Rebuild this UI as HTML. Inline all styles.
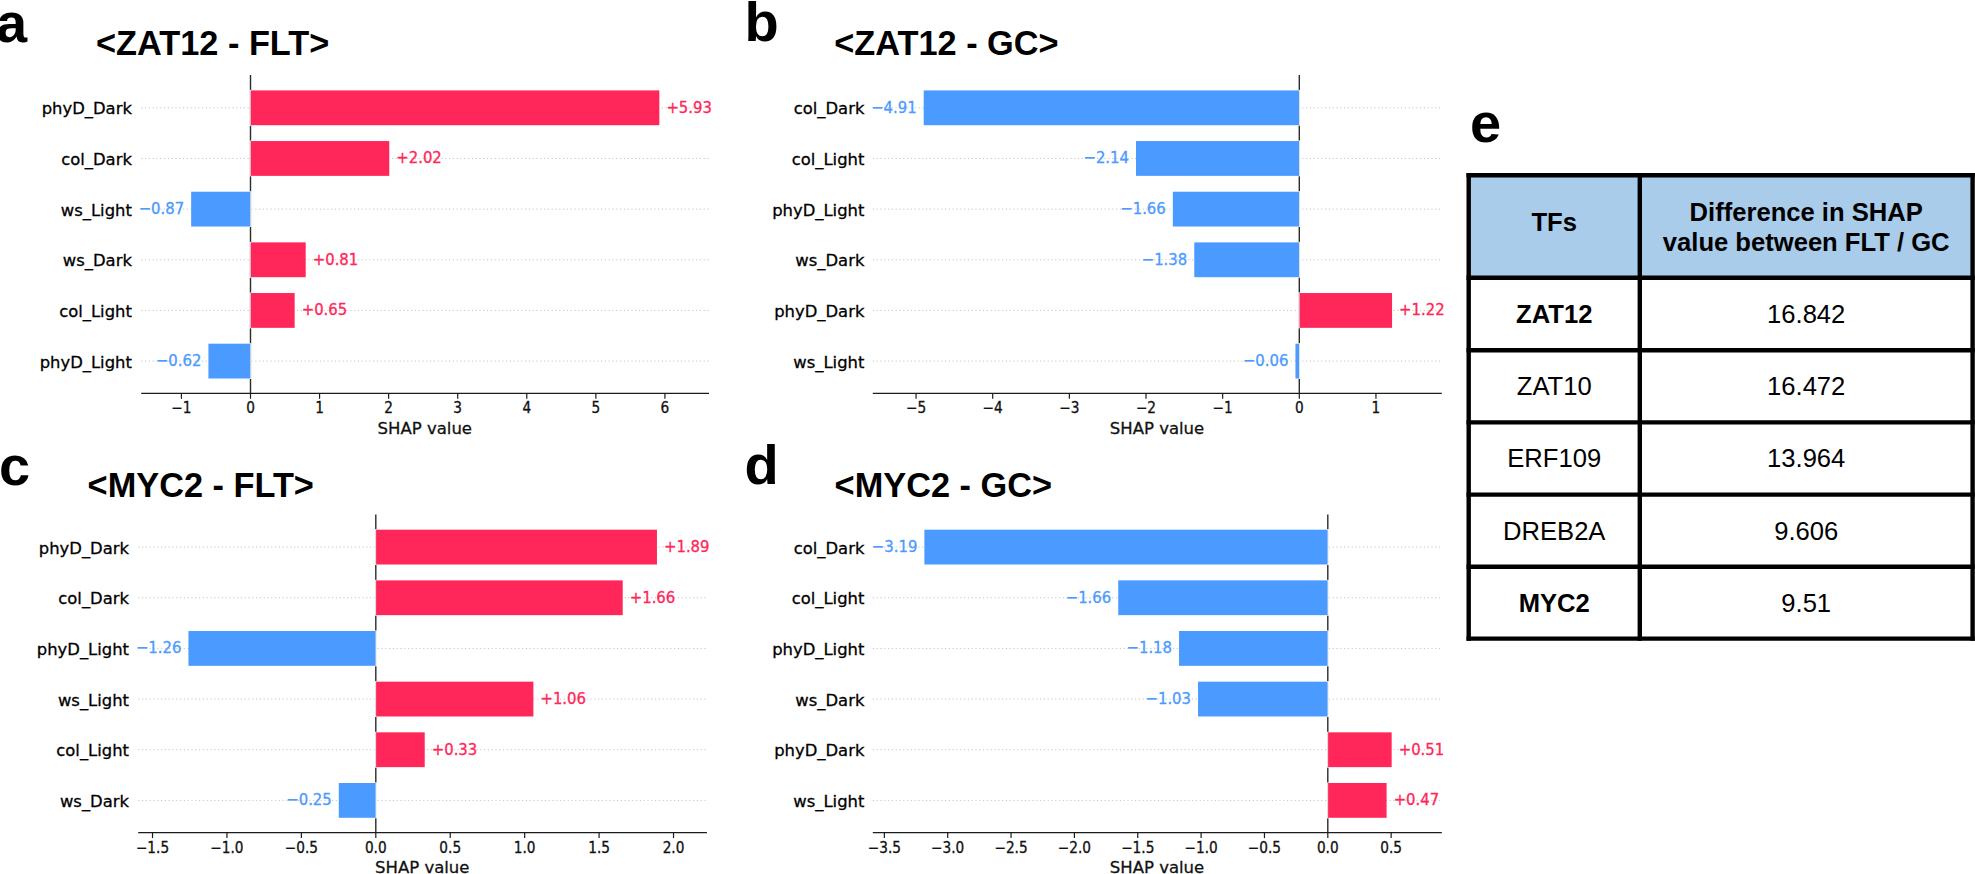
<!DOCTYPE html>
<html lang="en">
<head>
<meta charset="utf-8">
<title>SHAP values for ZAT12 and MYC2 (FLT / GC)</title>
<style>
html,body{margin:0;padding:0;background:#fff;}
body{width:1975px;height:874px;overflow:hidden;}
svg{display:block;}
text{white-space:pre;}
.c{font-family:'DejaVu Sans Condensed','DejaVu Sans',sans-serif;font-stretch:condensed;}
</style>
</head>
<body>
<svg width="1975" height="874" viewBox="0 0 1975 874">
<rect x="0" y="0" width="1975" height="874" fill="#ffffff"/>
<g font-family="'DejaVu Sans','Liberation Sans',sans-serif" stroke-width="0.3">
<line x1="141.20" y1="107.80" x2="709.00" y2="107.80" stroke="#c4c4c4" stroke-width="1" stroke-dasharray="1.2 2.6"/>
<line x1="141.20" y1="158.46" x2="709.00" y2="158.46" stroke="#c4c4c4" stroke-width="1" stroke-dasharray="1.2 2.6"/>
<line x1="141.20" y1="209.12" x2="709.00" y2="209.12" stroke="#c4c4c4" stroke-width="1" stroke-dasharray="1.2 2.6"/>
<line x1="141.20" y1="259.78" x2="709.00" y2="259.78" stroke="#c4c4c4" stroke-width="1" stroke-dasharray="1.2 2.6"/>
<line x1="141.20" y1="310.44" x2="709.00" y2="310.44" stroke="#c4c4c4" stroke-width="1" stroke-dasharray="1.2 2.6"/>
<line x1="141.20" y1="361.10" x2="709.00" y2="361.10" stroke="#c4c4c4" stroke-width="1" stroke-dasharray="1.2 2.6"/>
<line x1="250.50" y1="75.00" x2="250.50" y2="393.40" stroke="#2b2b2b" stroke-width="1.4"/>
<rect x="249.30" y="89.90" width="2.4" height="35.80" fill="#ffffff"/>
<rect x="249.60" y="90.40" width="1.5" height="34.80" fill="#dcdce2"/>
<rect x="250.80" y="90.40" width="408.54" height="34.80" fill="#ff2659"/>
<text x="666.39" y="112.75" font-size="16.5" class="c" fill="#ff2659" stroke="#ff2659" text-anchor="start">+5.93</text>
<text x="131.90" y="114.30" font-size="16.4" fill="#000" stroke="#000" text-anchor="end">phyD_Dark</text>
<rect x="249.30" y="140.56" width="2.4" height="35.80" fill="#ffffff"/>
<rect x="249.60" y="141.06" width="1.5" height="34.80" fill="#dcdce2"/>
<rect x="250.80" y="141.06" width="138.47" height="34.80" fill="#ff2659"/>
<text x="396.32" y="163.41" font-size="16.5" class="c" fill="#ff2659" stroke="#ff2659" text-anchor="start">+2.02</text>
<text x="131.90" y="164.96" font-size="16.4" fill="#000" stroke="#000" text-anchor="end">col_Dark</text>
<rect x="249.30" y="191.22" width="2.4" height="35.80" fill="#ffffff"/>
<rect x="249.60" y="191.72" width="1.5" height="34.80" fill="#dcdce2"/>
<rect x="191.16" y="191.72" width="59.04" height="34.80" fill="#4b9aff"/>
<text x="184.11" y="214.07" font-size="16.5" class="c" fill="#4b9aff" stroke="#4b9aff" text-anchor="end">−0.87</text>
<text x="131.90" y="215.62" font-size="16.4" fill="#000" stroke="#000" text-anchor="end">ws_Light</text>
<rect x="249.30" y="241.88" width="2.4" height="35.80" fill="#ffffff"/>
<rect x="249.60" y="242.38" width="1.5" height="34.80" fill="#dcdce2"/>
<rect x="250.80" y="242.38" width="54.90" height="34.80" fill="#ff2659"/>
<text x="312.75" y="264.73" font-size="16.5" class="c" fill="#ff2659" stroke="#ff2659" text-anchor="start">+0.81</text>
<text x="131.90" y="266.28" font-size="16.4" fill="#000" stroke="#000" text-anchor="end">ws_Dark</text>
<rect x="249.30" y="292.54" width="2.4" height="35.80" fill="#ffffff"/>
<rect x="249.60" y="293.04" width="1.5" height="34.80" fill="#dcdce2"/>
<rect x="250.80" y="293.04" width="43.85" height="34.80" fill="#ff2659"/>
<text x="301.70" y="315.39" font-size="16.5" class="c" fill="#ff2659" stroke="#ff2659" text-anchor="start">+0.65</text>
<text x="131.90" y="316.94" font-size="16.4" fill="#000" stroke="#000" text-anchor="end">col_Light</text>
<rect x="249.30" y="343.20" width="2.4" height="35.80" fill="#ffffff"/>
<rect x="249.60" y="343.70" width="1.5" height="34.80" fill="#dcdce2"/>
<rect x="208.43" y="343.70" width="41.77" height="34.80" fill="#4b9aff"/>
<text x="201.38" y="366.05" font-size="16.5" class="c" fill="#4b9aff" stroke="#4b9aff" text-anchor="end">−0.62</text>
<text x="131.90" y="367.60" font-size="16.4" fill="#000" stroke="#000" text-anchor="end">phyD_Light</text>
<line x1="141.20" y1="393.40" x2="709.00" y2="393.40" stroke="#1c1c1c" stroke-width="1.25"/>
<line x1="181.43" y1="393.40" x2="181.43" y2="398.80" stroke="#1c1c1c" stroke-width="1.2"/>
<text x="181.43" y="413.10" font-size="15.2" class="c" fill="#111" stroke="#111" text-anchor="middle">−1</text>
<line x1="250.50" y1="393.40" x2="250.50" y2="398.80" stroke="#1c1c1c" stroke-width="1.2"/>
<text x="250.50" y="413.10" font-size="15.2" class="c" fill="#111" stroke="#111" text-anchor="middle">0</text>
<line x1="319.57" y1="393.40" x2="319.57" y2="398.80" stroke="#1c1c1c" stroke-width="1.2"/>
<text x="319.57" y="413.10" font-size="15.2" class="c" fill="#111" stroke="#111" text-anchor="middle">1</text>
<line x1="388.64" y1="393.40" x2="388.64" y2="398.80" stroke="#1c1c1c" stroke-width="1.2"/>
<text x="388.64" y="413.10" font-size="15.2" class="c" fill="#111" stroke="#111" text-anchor="middle">2</text>
<line x1="457.71" y1="393.40" x2="457.71" y2="398.80" stroke="#1c1c1c" stroke-width="1.2"/>
<text x="457.71" y="413.10" font-size="15.2" class="c" fill="#111" stroke="#111" text-anchor="middle">3</text>
<line x1="526.78" y1="393.40" x2="526.78" y2="398.80" stroke="#1c1c1c" stroke-width="1.2"/>
<text x="526.78" y="413.10" font-size="15.2" class="c" fill="#111" stroke="#111" text-anchor="middle">4</text>
<line x1="595.85" y1="393.40" x2="595.85" y2="398.80" stroke="#1c1c1c" stroke-width="1.2"/>
<text x="595.85" y="413.10" font-size="15.2" class="c" fill="#111" stroke="#111" text-anchor="middle">5</text>
<line x1="664.92" y1="393.40" x2="664.92" y2="398.80" stroke="#1c1c1c" stroke-width="1.2"/>
<text x="664.92" y="413.10" font-size="15.2" class="c" fill="#111" stroke="#111" text-anchor="middle">6</text>
<text x="424.80" y="434.10" font-size="16.5" fill="#111" stroke="#111" text-anchor="middle">SHAP value</text>
<line x1="872.80" y1="107.80" x2="1441.80" y2="107.80" stroke="#c4c4c4" stroke-width="1" stroke-dasharray="1.2 2.6"/>
<line x1="872.80" y1="158.46" x2="1441.80" y2="158.46" stroke="#c4c4c4" stroke-width="1" stroke-dasharray="1.2 2.6"/>
<line x1="872.80" y1="209.12" x2="1441.80" y2="209.12" stroke="#c4c4c4" stroke-width="1" stroke-dasharray="1.2 2.6"/>
<line x1="872.80" y1="259.78" x2="1441.80" y2="259.78" stroke="#c4c4c4" stroke-width="1" stroke-dasharray="1.2 2.6"/>
<line x1="872.80" y1="310.44" x2="1441.80" y2="310.44" stroke="#c4c4c4" stroke-width="1" stroke-dasharray="1.2 2.6"/>
<line x1="872.80" y1="361.10" x2="1441.80" y2="361.10" stroke="#c4c4c4" stroke-width="1" stroke-dasharray="1.2 2.6"/>
<line x1="1299.30" y1="75.00" x2="1299.30" y2="393.40" stroke="#2b2b2b" stroke-width="1.4"/>
<rect x="1298.10" y="89.90" width="2.4" height="35.80" fill="#ffffff"/>
<rect x="1298.40" y="90.40" width="1.5" height="34.80" fill="#dcdce2"/>
<rect x="923.70" y="90.40" width="375.30" height="34.80" fill="#4b9aff"/>
<text x="916.65" y="112.75" font-size="16.5" class="c" fill="#4b9aff" stroke="#4b9aff" text-anchor="end">−4.91</text>
<text x="864.40" y="114.30" font-size="16.4" fill="#000" stroke="#000" text-anchor="end">col_Dark</text>
<rect x="1298.10" y="140.56" width="2.4" height="35.80" fill="#ffffff"/>
<rect x="1298.40" y="141.06" width="1.5" height="34.80" fill="#dcdce2"/>
<rect x="1136.02" y="141.06" width="162.98" height="34.80" fill="#4b9aff"/>
<text x="1128.97" y="163.41" font-size="16.5" class="c" fill="#4b9aff" stroke="#4b9aff" text-anchor="end">−2.14</text>
<text x="864.40" y="164.96" font-size="16.4" fill="#000" stroke="#000" text-anchor="end">col_Light</text>
<rect x="1298.10" y="191.22" width="2.4" height="35.80" fill="#ffffff"/>
<rect x="1298.40" y="191.72" width="1.5" height="34.80" fill="#dcdce2"/>
<rect x="1172.81" y="191.72" width="126.19" height="34.80" fill="#4b9aff"/>
<text x="1165.76" y="214.07" font-size="16.5" class="c" fill="#4b9aff" stroke="#4b9aff" text-anchor="end">−1.66</text>
<text x="864.40" y="215.62" font-size="16.4" fill="#000" stroke="#000" text-anchor="end">phyD_Light</text>
<rect x="1298.10" y="241.88" width="2.4" height="35.80" fill="#ffffff"/>
<rect x="1298.40" y="242.38" width="1.5" height="34.80" fill="#dcdce2"/>
<rect x="1194.27" y="242.38" width="104.73" height="34.80" fill="#4b9aff"/>
<text x="1187.22" y="264.73" font-size="16.5" class="c" fill="#4b9aff" stroke="#4b9aff" text-anchor="end">−1.38</text>
<text x="864.40" y="266.28" font-size="16.4" fill="#000" stroke="#000" text-anchor="end">ws_Dark</text>
<rect x="1298.10" y="292.54" width="2.4" height="35.80" fill="#ffffff"/>
<rect x="1298.40" y="293.04" width="1.5" height="34.80" fill="#dcdce2"/>
<rect x="1299.60" y="293.04" width="92.46" height="34.80" fill="#ff2659"/>
<text x="1399.11" y="315.39" font-size="16.5" class="c" fill="#ff2659" stroke="#ff2659" text-anchor="start">+1.22</text>
<text x="864.40" y="316.94" font-size="16.4" fill="#000" stroke="#000" text-anchor="end">phyD_Dark</text>
<rect x="1298.10" y="343.20" width="2.4" height="35.80" fill="#ffffff"/>
<rect x="1298.40" y="343.70" width="1.5" height="34.80" fill="#dcdce2"/>
<rect x="1295.45" y="343.70" width="3.55" height="34.80" fill="#4b9aff"/>
<text x="1288.40" y="366.05" font-size="16.5" class="c" fill="#4b9aff" stroke="#4b9aff" text-anchor="end">−0.06</text>
<text x="864.40" y="367.60" font-size="16.4" fill="#000" stroke="#000" text-anchor="end">ws_Light</text>
<line x1="872.80" y1="393.40" x2="1441.80" y2="393.40" stroke="#1c1c1c" stroke-width="1.25"/>
<line x1="916.05" y1="393.40" x2="916.05" y2="398.80" stroke="#1c1c1c" stroke-width="1.2"/>
<text x="916.05" y="413.10" font-size="15.2" class="c" fill="#111" stroke="#111" text-anchor="middle">−5</text>
<line x1="992.70" y1="393.40" x2="992.70" y2="398.80" stroke="#1c1c1c" stroke-width="1.2"/>
<text x="992.70" y="413.10" font-size="15.2" class="c" fill="#111" stroke="#111" text-anchor="middle">−4</text>
<line x1="1069.35" y1="393.40" x2="1069.35" y2="398.80" stroke="#1c1c1c" stroke-width="1.2"/>
<text x="1069.35" y="413.10" font-size="15.2" class="c" fill="#111" stroke="#111" text-anchor="middle">−3</text>
<line x1="1146.00" y1="393.40" x2="1146.00" y2="398.80" stroke="#1c1c1c" stroke-width="1.2"/>
<text x="1146.00" y="413.10" font-size="15.2" class="c" fill="#111" stroke="#111" text-anchor="middle">−2</text>
<line x1="1222.65" y1="393.40" x2="1222.65" y2="398.80" stroke="#1c1c1c" stroke-width="1.2"/>
<text x="1222.65" y="413.10" font-size="15.2" class="c" fill="#111" stroke="#111" text-anchor="middle">−1</text>
<line x1="1299.30" y1="393.40" x2="1299.30" y2="398.80" stroke="#1c1c1c" stroke-width="1.2"/>
<text x="1299.30" y="413.10" font-size="15.2" class="c" fill="#111" stroke="#111" text-anchor="middle">0</text>
<line x1="1375.95" y1="393.40" x2="1375.95" y2="398.80" stroke="#1c1c1c" stroke-width="1.2"/>
<text x="1375.95" y="413.10" font-size="15.2" class="c" fill="#111" stroke="#111" text-anchor="middle">1</text>
<text x="1157.00" y="434.10" font-size="16.5" fill="#111" stroke="#111" text-anchor="middle">SHAP value</text>
<line x1="138.20" y1="547.10" x2="706.90" y2="547.10" stroke="#c4c4c4" stroke-width="1" stroke-dasharray="1.2 2.6"/>
<line x1="138.20" y1="597.76" x2="706.90" y2="597.76" stroke="#c4c4c4" stroke-width="1" stroke-dasharray="1.2 2.6"/>
<line x1="138.20" y1="648.42" x2="706.90" y2="648.42" stroke="#c4c4c4" stroke-width="1" stroke-dasharray="1.2 2.6"/>
<line x1="138.20" y1="699.08" x2="706.90" y2="699.08" stroke="#c4c4c4" stroke-width="1" stroke-dasharray="1.2 2.6"/>
<line x1="138.20" y1="749.74" x2="706.90" y2="749.74" stroke="#c4c4c4" stroke-width="1" stroke-dasharray="1.2 2.6"/>
<line x1="138.20" y1="800.40" x2="706.90" y2="800.40" stroke="#c4c4c4" stroke-width="1" stroke-dasharray="1.2 2.6"/>
<line x1="375.80" y1="514.50" x2="375.80" y2="832.70" stroke="#2b2b2b" stroke-width="1.4"/>
<rect x="374.60" y="529.20" width="2.4" height="35.80" fill="#ffffff"/>
<rect x="374.90" y="529.70" width="1.5" height="34.80" fill="#dcdce2"/>
<rect x="376.10" y="529.70" width="280.85" height="34.80" fill="#ff2659"/>
<text x="664.00" y="552.05" font-size="16.5" class="c" fill="#ff2659" stroke="#ff2659" text-anchor="start">+1.89</text>
<text x="129.00" y="553.60" font-size="16.4" fill="#000" stroke="#000" text-anchor="end">phyD_Dark</text>
<rect x="374.60" y="579.86" width="2.4" height="35.80" fill="#ffffff"/>
<rect x="374.90" y="580.36" width="1.5" height="34.80" fill="#dcdce2"/>
<rect x="376.10" y="580.36" width="246.61" height="34.80" fill="#ff2659"/>
<text x="629.76" y="602.71" font-size="16.5" class="c" fill="#ff2659" stroke="#ff2659" text-anchor="start">+1.66</text>
<text x="129.00" y="604.26" font-size="16.4" fill="#000" stroke="#000" text-anchor="end">col_Dark</text>
<rect x="374.60" y="630.52" width="2.4" height="35.80" fill="#ffffff"/>
<rect x="374.90" y="631.02" width="1.5" height="34.80" fill="#dcdce2"/>
<rect x="188.44" y="631.02" width="187.06" height="34.80" fill="#4b9aff"/>
<text x="181.39" y="653.37" font-size="16.5" class="c" fill="#4b9aff" stroke="#4b9aff" text-anchor="end">−1.26</text>
<text x="129.00" y="654.92" font-size="16.4" fill="#000" stroke="#000" text-anchor="end">phyD_Light</text>
<rect x="374.60" y="681.18" width="2.4" height="35.80" fill="#ffffff"/>
<rect x="374.90" y="681.68" width="1.5" height="34.80" fill="#dcdce2"/>
<rect x="376.10" y="681.68" width="157.29" height="34.80" fill="#ff2659"/>
<text x="540.44" y="704.03" font-size="16.5" class="c" fill="#ff2659" stroke="#ff2659" text-anchor="start">+1.06</text>
<text x="129.00" y="705.58" font-size="16.4" fill="#000" stroke="#000" text-anchor="end">ws_Light</text>
<rect x="374.60" y="731.84" width="2.4" height="35.80" fill="#ffffff"/>
<rect x="374.90" y="732.34" width="1.5" height="34.80" fill="#dcdce2"/>
<rect x="376.10" y="732.34" width="48.62" height="34.80" fill="#ff2659"/>
<text x="431.77" y="754.69" font-size="16.5" class="c" fill="#ff2659" stroke="#ff2659" text-anchor="start">+0.33</text>
<text x="129.00" y="756.24" font-size="16.4" fill="#000" stroke="#000" text-anchor="end">col_Light</text>
<rect x="374.60" y="782.50" width="2.4" height="35.80" fill="#ffffff"/>
<rect x="374.90" y="783.00" width="1.5" height="34.80" fill="#dcdce2"/>
<rect x="338.78" y="783.00" width="36.72" height="34.80" fill="#4b9aff"/>
<text x="331.74" y="805.35" font-size="16.5" class="c" fill="#4b9aff" stroke="#4b9aff" text-anchor="end">−0.25</text>
<text x="129.00" y="806.90" font-size="16.4" fill="#000" stroke="#000" text-anchor="end">ws_Dark</text>
<line x1="138.20" y1="832.70" x2="706.90" y2="832.70" stroke="#1c1c1c" stroke-width="1.25"/>
<line x1="152.51" y1="832.70" x2="152.51" y2="838.10" stroke="#1c1c1c" stroke-width="1.2"/>
<text x="152.51" y="852.90" font-size="15.2" class="c" fill="#111" stroke="#111" text-anchor="middle">−1.5</text>
<line x1="226.94" y1="832.70" x2="226.94" y2="838.10" stroke="#1c1c1c" stroke-width="1.2"/>
<text x="226.94" y="852.90" font-size="15.2" class="c" fill="#111" stroke="#111" text-anchor="middle">−1.0</text>
<line x1="301.37" y1="832.70" x2="301.37" y2="838.10" stroke="#1c1c1c" stroke-width="1.2"/>
<text x="301.37" y="852.90" font-size="15.2" class="c" fill="#111" stroke="#111" text-anchor="middle">−0.5</text>
<line x1="375.80" y1="832.70" x2="375.80" y2="838.10" stroke="#1c1c1c" stroke-width="1.2"/>
<text x="375.80" y="852.90" font-size="15.2" class="c" fill="#111" stroke="#111" text-anchor="middle">0.0</text>
<line x1="450.23" y1="832.70" x2="450.23" y2="838.10" stroke="#1c1c1c" stroke-width="1.2"/>
<text x="450.23" y="852.90" font-size="15.2" class="c" fill="#111" stroke="#111" text-anchor="middle">0.5</text>
<line x1="524.66" y1="832.70" x2="524.66" y2="838.10" stroke="#1c1c1c" stroke-width="1.2"/>
<text x="524.66" y="852.90" font-size="15.2" class="c" fill="#111" stroke="#111" text-anchor="middle">1.0</text>
<line x1="599.09" y1="832.70" x2="599.09" y2="838.10" stroke="#1c1c1c" stroke-width="1.2"/>
<text x="599.09" y="852.90" font-size="15.2" class="c" fill="#111" stroke="#111" text-anchor="middle">1.5</text>
<line x1="673.52" y1="832.70" x2="673.52" y2="838.10" stroke="#1c1c1c" stroke-width="1.2"/>
<text x="673.52" y="852.90" font-size="15.2" class="c" fill="#111" stroke="#111" text-anchor="middle">2.0</text>
<text x="422.25" y="873.20" font-size="16.5" fill="#111" stroke="#111" text-anchor="middle">SHAP value</text>
<line x1="872.80" y1="547.10" x2="1441.80" y2="547.10" stroke="#c4c4c4" stroke-width="1" stroke-dasharray="1.2 2.6"/>
<line x1="872.80" y1="597.76" x2="1441.80" y2="597.76" stroke="#c4c4c4" stroke-width="1" stroke-dasharray="1.2 2.6"/>
<line x1="872.80" y1="648.42" x2="1441.80" y2="648.42" stroke="#c4c4c4" stroke-width="1" stroke-dasharray="1.2 2.6"/>
<line x1="872.80" y1="699.08" x2="1441.80" y2="699.08" stroke="#c4c4c4" stroke-width="1" stroke-dasharray="1.2 2.6"/>
<line x1="872.80" y1="749.74" x2="1441.80" y2="749.74" stroke="#c4c4c4" stroke-width="1" stroke-dasharray="1.2 2.6"/>
<line x1="872.80" y1="800.40" x2="1441.80" y2="800.40" stroke="#c4c4c4" stroke-width="1" stroke-dasharray="1.2 2.6"/>
<line x1="1327.80" y1="514.50" x2="1327.80" y2="832.70" stroke="#2b2b2b" stroke-width="1.4"/>
<rect x="1326.60" y="529.20" width="2.4" height="35.80" fill="#ffffff"/>
<rect x="1326.90" y="529.70" width="1.5" height="34.80" fill="#dcdce2"/>
<rect x="924.38" y="529.70" width="403.12" height="34.80" fill="#4b9aff"/>
<text x="917.33" y="552.05" font-size="16.5" class="c" fill="#4b9aff" stroke="#4b9aff" text-anchor="end">−3.19</text>
<text x="864.40" y="553.60" font-size="16.4" fill="#000" stroke="#000" text-anchor="end">col_Dark</text>
<rect x="1326.60" y="579.86" width="2.4" height="35.80" fill="#ffffff"/>
<rect x="1326.90" y="580.36" width="1.5" height="34.80" fill="#dcdce2"/>
<rect x="1118.23" y="580.36" width="209.27" height="34.80" fill="#4b9aff"/>
<text x="1111.18" y="602.71" font-size="16.5" class="c" fill="#4b9aff" stroke="#4b9aff" text-anchor="end">−1.66</text>
<text x="864.40" y="604.26" font-size="16.4" fill="#000" stroke="#000" text-anchor="end">col_Light</text>
<rect x="1326.60" y="630.52" width="2.4" height="35.80" fill="#ffffff"/>
<rect x="1326.90" y="631.02" width="1.5" height="34.80" fill="#dcdce2"/>
<rect x="1179.04" y="631.02" width="148.46" height="34.80" fill="#4b9aff"/>
<text x="1171.99" y="653.37" font-size="16.5" class="c" fill="#4b9aff" stroke="#4b9aff" text-anchor="end">−1.18</text>
<text x="864.40" y="654.92" font-size="16.4" fill="#000" stroke="#000" text-anchor="end">phyD_Light</text>
<rect x="1326.60" y="681.18" width="2.4" height="35.80" fill="#ffffff"/>
<rect x="1326.90" y="681.68" width="1.5" height="34.80" fill="#dcdce2"/>
<rect x="1198.05" y="681.68" width="129.45" height="34.80" fill="#4b9aff"/>
<text x="1191.00" y="704.03" font-size="16.5" class="c" fill="#4b9aff" stroke="#4b9aff" text-anchor="end">−1.03</text>
<text x="864.40" y="705.58" font-size="16.4" fill="#000" stroke="#000" text-anchor="end">ws_Dark</text>
<rect x="1326.60" y="731.84" width="2.4" height="35.80" fill="#ffffff"/>
<rect x="1326.90" y="732.34" width="1.5" height="34.80" fill="#dcdce2"/>
<rect x="1328.10" y="732.34" width="63.57" height="34.80" fill="#ff2659"/>
<text x="1398.72" y="754.69" font-size="16.5" class="c" fill="#ff2659" stroke="#ff2659" text-anchor="start">+0.51</text>
<text x="864.40" y="756.24" font-size="16.4" fill="#000" stroke="#000" text-anchor="end">phyD_Dark</text>
<rect x="1326.60" y="782.50" width="2.4" height="35.80" fill="#ffffff"/>
<rect x="1326.90" y="783.00" width="1.5" height="34.80" fill="#dcdce2"/>
<rect x="1328.10" y="783.00" width="58.50" height="34.80" fill="#ff2659"/>
<text x="1393.65" y="805.35" font-size="16.5" class="c" fill="#ff2659" stroke="#ff2659" text-anchor="start">+0.47</text>
<text x="864.40" y="806.90" font-size="16.4" fill="#000" stroke="#000" text-anchor="end">ws_Light</text>
<line x1="872.80" y1="832.70" x2="1441.80" y2="832.70" stroke="#1c1c1c" stroke-width="1.25"/>
<line x1="884.35" y1="832.70" x2="884.35" y2="838.10" stroke="#1c1c1c" stroke-width="1.2"/>
<text x="884.35" y="852.90" font-size="15.2" class="c" fill="#111" stroke="#111" text-anchor="middle">−3.5</text>
<line x1="947.70" y1="832.70" x2="947.70" y2="838.10" stroke="#1c1c1c" stroke-width="1.2"/>
<text x="947.70" y="852.90" font-size="15.2" class="c" fill="#111" stroke="#111" text-anchor="middle">−3.0</text>
<line x1="1011.05" y1="832.70" x2="1011.05" y2="838.10" stroke="#1c1c1c" stroke-width="1.2"/>
<text x="1011.05" y="852.90" font-size="15.2" class="c" fill="#111" stroke="#111" text-anchor="middle">−2.5</text>
<line x1="1074.40" y1="832.70" x2="1074.40" y2="838.10" stroke="#1c1c1c" stroke-width="1.2"/>
<text x="1074.40" y="852.90" font-size="15.2" class="c" fill="#111" stroke="#111" text-anchor="middle">−2.0</text>
<line x1="1137.75" y1="832.70" x2="1137.75" y2="838.10" stroke="#1c1c1c" stroke-width="1.2"/>
<text x="1137.75" y="852.90" font-size="15.2" class="c" fill="#111" stroke="#111" text-anchor="middle">−1.5</text>
<line x1="1201.10" y1="832.70" x2="1201.10" y2="838.10" stroke="#1c1c1c" stroke-width="1.2"/>
<text x="1201.10" y="852.90" font-size="15.2" class="c" fill="#111" stroke="#111" text-anchor="middle">−1.0</text>
<line x1="1264.45" y1="832.70" x2="1264.45" y2="838.10" stroke="#1c1c1c" stroke-width="1.2"/>
<text x="1264.45" y="852.90" font-size="15.2" class="c" fill="#111" stroke="#111" text-anchor="middle">−0.5</text>
<line x1="1327.80" y1="832.70" x2="1327.80" y2="838.10" stroke="#1c1c1c" stroke-width="1.2"/>
<text x="1327.80" y="852.90" font-size="15.2" class="c" fill="#111" stroke="#111" text-anchor="middle">0.0</text>
<line x1="1391.15" y1="832.70" x2="1391.15" y2="838.10" stroke="#1c1c1c" stroke-width="1.2"/>
<text x="1391.15" y="852.90" font-size="15.2" class="c" fill="#111" stroke="#111" text-anchor="middle">0.5</text>
<text x="1157.00" y="873.20" font-size="16.5" fill="#111" stroke="#111" text-anchor="middle">SHAP value</text>
</g>
<g font-family="'Liberation Sans',Arial,sans-serif" font-weight="bold" fill="#000">
<text x="-4.0" y="41.8" font-size="56">a</text>
<text x="744.4" y="40.8" font-size="56">b</text>
<text x="-1.0" y="484.7" font-size="56">c</text>
<text x="744.4" y="483.8" font-size="56">d</text>
<text x="1470.0" y="142.4" font-size="56">e</text>
<text transform="translate(96.0 55.1) scale(0.97 1)" font-size="35.4">&lt;ZAT12 - FLT&gt;</text>
<text transform="translate(834.2 55.1) scale(0.97 1)" font-size="35.4">&lt;ZAT12 - GC&gt;</text>
<text transform="translate(87.6 497.4) scale(0.97 1)" font-size="35.4">&lt;MYC2 - FLT&gt;</text>
<text transform="translate(834.6 497.0) scale(0.97 1)" font-size="35.4">&lt;MYC2 - GC&gt;</text>
</g>
<rect x="1468.7" y="175.3" width="503.89999999999986" height="102.5" fill="#a8cce9"/>
<line x1="1466.5" y1="175.3" x2="1974.8" y2="175.3" stroke="#000" stroke-width="4.4"/>
<line x1="1466.5" y1="277.8" x2="1974.8" y2="277.8" stroke="#000" stroke-width="4.4"/>
<line x1="1466.5" y1="350.2" x2="1974.8" y2="350.2" stroke="#000" stroke-width="4.4"/>
<line x1="1466.5" y1="422.4" x2="1974.8" y2="422.4" stroke="#000" stroke-width="4.4"/>
<line x1="1466.5" y1="494.6" x2="1974.8" y2="494.6" stroke="#000" stroke-width="4.4"/>
<line x1="1466.5" y1="566.8" x2="1974.8" y2="566.8" stroke="#000" stroke-width="4.4"/>
<line x1="1466.5" y1="638.6" x2="1974.8" y2="638.6" stroke="#000" stroke-width="4.4"/>
<line x1="1468.7" y1="173.10000000000002" x2="1468.7" y2="640.8000000000001" stroke="#000" stroke-width="4.4"/>
<line x1="1639.8" y1="173.10000000000002" x2="1639.8" y2="640.8000000000001" stroke="#000" stroke-width="4.4"/>
<line x1="1972.6" y1="173.10000000000002" x2="1972.6" y2="640.8000000000001" stroke="#000" stroke-width="4.4"/>
<g font-family="'Liberation Sans',Arial,sans-serif" fill="#000" text-anchor="middle" font-size="25.6">
<text x="1554.25" y="230.6" font-weight="bold">TFs</text>
<text x="1806.1999999999998" y="220.6" font-weight="bold">Difference in SHAP</text>
<text x="1806.1999999999998" y="250.8" font-weight="bold">value between FLT / GC</text>
<text x="1554.25" y="322.90" font-weight="bold">ZAT12</text>
<text x="1806.1999999999998" y="322.90">16.842</text>
<text x="1554.25" y="395.20">ZAT10</text>
<text x="1806.1999999999998" y="395.20">16.472</text>
<text x="1554.25" y="467.40">ERF109</text>
<text x="1806.1999999999998" y="467.40">13.964</text>
<text x="1554.25" y="539.60">DREB2A</text>
<text x="1806.1999999999998" y="539.60">9.606</text>
<text x="1554.25" y="611.60" font-weight="bold">MYC2</text>
<text x="1806.1999999999998" y="611.60">9.51</text>
</g>
</svg>
</body>
</html>
